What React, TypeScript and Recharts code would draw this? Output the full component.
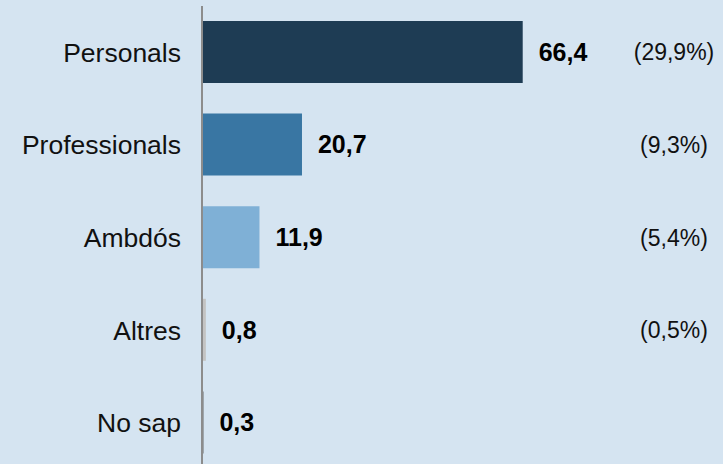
import React from "react";
import { BarChart, Bar, XAxis, YAxis, Cell, LabelList } from "recharts";

const categories = ["Personals", "Professionals", "Ambdós", "Altres", "No sap"];
const values = [66.4, 20.7, 11.9, 0.8, 0.3];
const shares: Array<number | null> = [29.9, 9.3, 5.4, 0.5, null];
const barColors = ["#1e3c54", "#3976a3", "#7fb0d6", "#c3c3c3", "#5a5a5a"];

const data = categories.map((name, i) => ({
  name,
  value: values[i],
  share: shares[i],
}));

const FONT = "'Liberation Sans', Arial, sans-serif";

const fmt = (v: number) => v.toFixed(1).replace(".", ",");

// percentage shown at the right edge, as ticks of a second category axis
const ShareTick = ({ x, y, index }: any) => {
  const s = shares[index];
  if (s == null) return null;
  return (
    <text
      x={x - 11}
      y={y}
      textAnchor="middle"
      dominantBaseline="central"
      fontFamily={FONT}
      fontSize={23}
      fill="#111"
    >
      ({fmt(s)}%)
    </text>
  );
};

export default function App() {
  return (
    <div
      style={{
        position: "absolute",
        left: 0,
        top: 0,
        width: 723,
        height: 464,
        background: "#d5e4f1",
        overflow: "hidden",
      }}
    >
      <BarChart
        width={723}
        height={470}
        data={data}
        layout="vertical"
        margin={{ top: 6, right: 0, bottom: 1, left: 0 }}
        barSize={62}
      >
        <XAxis type="number" domain={[0, 100]} hide />
        <YAxis
          yAxisId="left"
          type="category"
          dataKey="name"
          width={202}
          tickLine={false}
          tickSize={0}
          tickMargin={21}
          axisLine={{ stroke: "#8c8c8c", strokeWidth: 2 }}
          tick={{ fontSize: 26.5, fill: "#111", fontFamily: FONT }}
          interval={0}
        />
        <YAxis
          yAxisId="right"
          orientation="right"
          type="category"
          dataKey="name"
          width={38}
          tickLine={false}
          tickSize={0}
          tickMargin={0}
          axisLine={false}
          tick={<ShareTick />}
          interval={0}
        />
        <Bar yAxisId="left" dataKey="value" isAnimationActive={false}>
          {data.map((_, i) => (
            <Cell key={i} fill={barColors[i]} />
          ))}
          <LabelList
            dataKey="value"
            position="right"
            offset={16}
            formatter={(v: any) => fmt(Number(v))}
            style={{
              fontFamily: FONT,
              fontSize: 25,
              fontWeight: "bold",
              fill: "#000",
            }}
          />
        </Bar>
      </BarChart>
    </div>
  );
}
